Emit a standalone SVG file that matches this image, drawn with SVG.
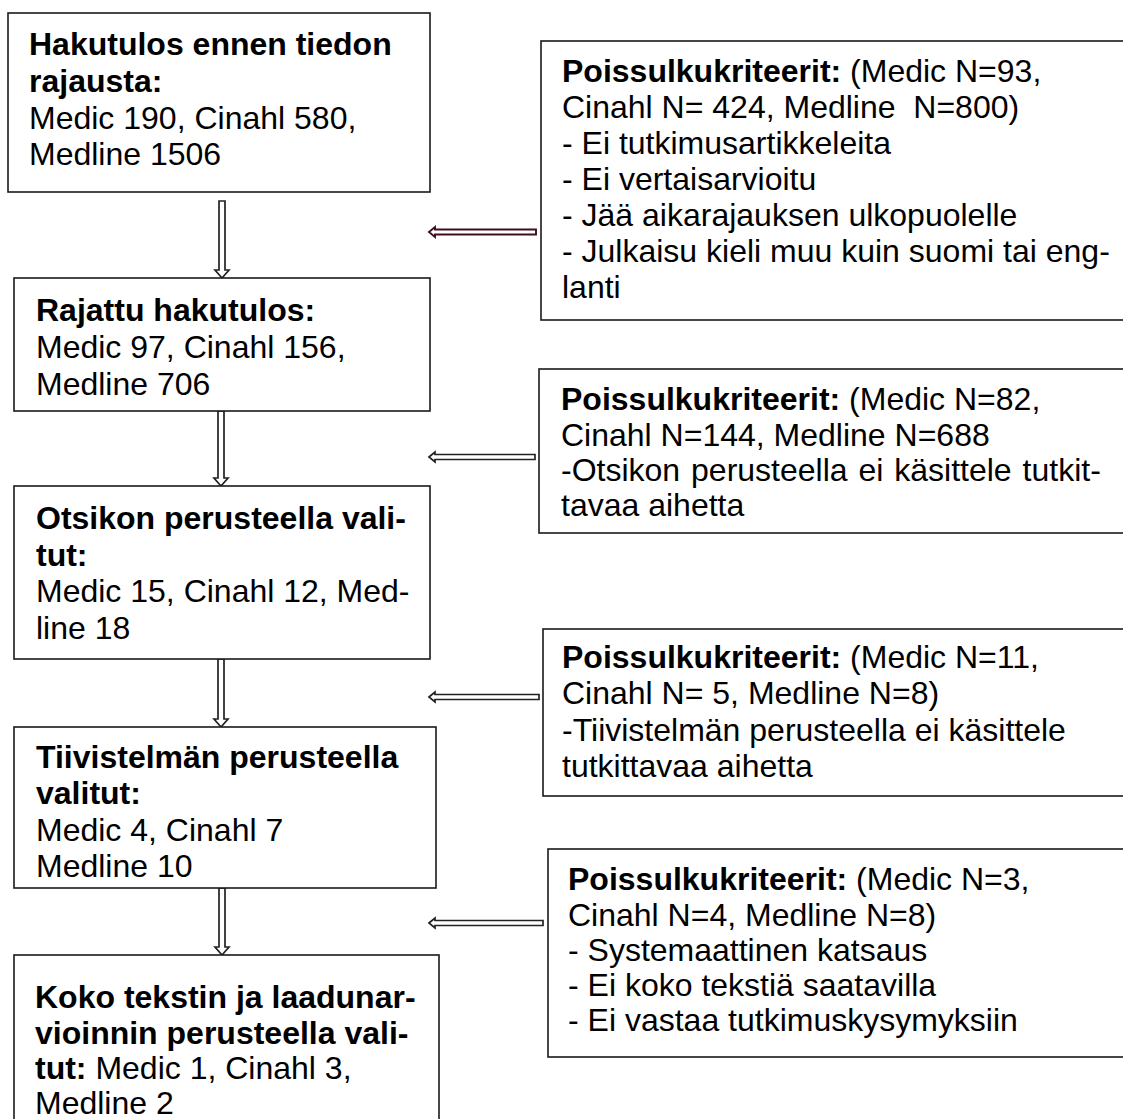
<svg xmlns="http://www.w3.org/2000/svg" width="1123" height="1119" viewBox="0 0 1123 1119">
<style>
  text { font-family: "Liberation Sans", Arial, sans-serif; font-size: 32px; fill: #000; }
  .b { font-weight: bold; }
  .box { fill: #fff; stroke: #1a1a1a; stroke-width: 1.6; }
  .arr { fill: #fff; stroke: #222; stroke-width: 1.7; stroke-linejoin: miter; }
  .arr1 { fill: #fff; stroke: #3f0f20; stroke-width: 1.9; }
</style>
<rect x="0" y="0" width="1123" height="1119" fill="#fff"/>

<g id="connectors">
  <polygon class="arr" points="219,201 225,201 225,270 229,270 222,278 215,270 219,270"/>
  <polygon class="arr" points="218,411 224,411 224,478 228,478 221,486 214,478 218,478"/>
  <polygon class="arr" points="218,659 224,659 224,719 228,719 221,727 214,719 218,719"/>
  <polygon class="arr" points="219,888 225,888 225,947 229,947 222,955 215,947 219,947"/>
  <polygon class="arr1" points="429,232 435,227 435,229.5 536,229.5 536,234.5 435,234.5 435,237"/>
  <polygon class="arr" points="429,457 435,452 435,454.5 535,454.5 535,459.5 435,459.5 435,462"/>
  <polygon class="arr" points="429,697 435,692 435,694.5 539,694.5 539,699.5 435,699.5 435,702"/>
  <polygon class="arr" points="429,923 435,918 435,920.5 543,920.5 543,925.5 435,925.5 435,928"/>
</g>

<g id="n1">
  <rect class="box" x="8" y="13" width="422" height="179"/>
  <text x="29" y="55" class="b">Hakutulos ennen tiedon</text>
  <text x="29" y="92" class="b">rajausta:</text>
  <text x="29" y="129">Medic 190, Cinahl 580,</text>
  <text x="29" y="165">Medline 1506</text>
</g>

<g id="n2">
  <rect class="box" x="14" y="278" width="416" height="133"/>
  <text x="36" y="321" class="b">Rajattu hakutulos:</text>
  <text x="36" y="358">Medic 97, Cinahl 156,</text>
  <text x="36" y="395">Medline 706</text>
</g>

<g id="n3">
  <rect class="box" x="14" y="486" width="416" height="173"/>
  <text x="36" y="529" class="b">Otsikon perusteella vali-</text>
  <text x="36" y="566" class="b">tut:</text>
  <text x="36" y="602">Medic 15, Cinahl 12, Med-</text>
  <text x="36" y="639">line 18</text>
</g>

<g id="n4">
  <rect class="box" x="14" y="727" width="422" height="161"/>
  <text x="36" y="768" class="b">Tiivistelmän perusteella</text>
  <text x="36" y="804" class="b">valitut:</text>
  <text x="36" y="841">Medic 4, Cinahl 7</text>
  <text x="36" y="877">Medline 10</text>
</g>

<g id="n5">
  <rect class="box" x="14" y="955" width="425" height="180"/>
  <text x="35" y="1008" class="b">Koko tekstin ja laadunar-</text>
  <text x="35" y="1044" class="b">vioinnin perusteella vali-</text>
  <text x="35" y="1079"><tspan class="b">tut:</tspan> Medic 1, Cinahl 3,</text>
  <text x="35" y="1114">Medline 2</text>
</g>

<g id="r1">
  <rect class="box" x="541" y="41" width="600" height="279"/>
  <text x="562" y="82"><tspan class="b">Poissulkukriteerit:</tspan> (Medic N=93,</text>
  <text x="562" y="118">Cinahl N= 424, Medline&#160; N=800)</text>
  <text x="562" y="154">- Ei tutkimusartikkeleita</text>
  <text x="562" y="190">- Ei vertaisarvioitu</text>
  <text x="562" y="226">- Jää aikarajauksen ulkopuolelle</text>
  <text x="562" y="262">- Julkaisu kieli muu kuin suomi tai eng-</text>
  <text x="562" y="298">lanti</text>
</g>

<g id="r2">
  <rect class="box" x="539" y="369" width="600" height="164"/>
  <text x="561" y="410"><tspan class="b">Poissulkukriteerit:</tspan> (Medic N=82,</text>
  <text x="561" y="446">Cinahl N=144, Medline N=688</text>
  <text x="561" y="481" word-spacing="2">-Otsikon perusteella ei käsittele tutkit-</text>
  <text x="561" y="516">tavaa aihetta</text>
</g>

<g id="r3">
  <rect class="box" x="543" y="629" width="600" height="167"/>
  <text x="562" y="668"><tspan class="b">Poissulkukriteerit:</tspan> (Medic N=11,</text>
  <text x="562" y="704">Cinahl N= 5, Medline N=8)</text>
  <text x="562" y="741">-Tiivistelmän perusteella ei käsittele</text>
  <text x="562" y="777">tutkittavaa aihetta</text>
</g>

<g id="r4">
  <rect class="box" x="548" y="849" width="600" height="208"/>
  <text x="568" y="890"><tspan class="b">Poissulkukriteerit:</tspan> (Medic N=3,</text>
  <text x="568" y="926">Cinahl N=4, Medline N=8)</text>
  <text x="568" y="961">- Systemaattinen katsaus</text>
  <text x="568" y="996">- Ei koko tekstiä saatavilla</text>
  <text x="568" y="1031">- Ei vastaa tutkimuskysymyksiin</text>
</g>
</svg>
